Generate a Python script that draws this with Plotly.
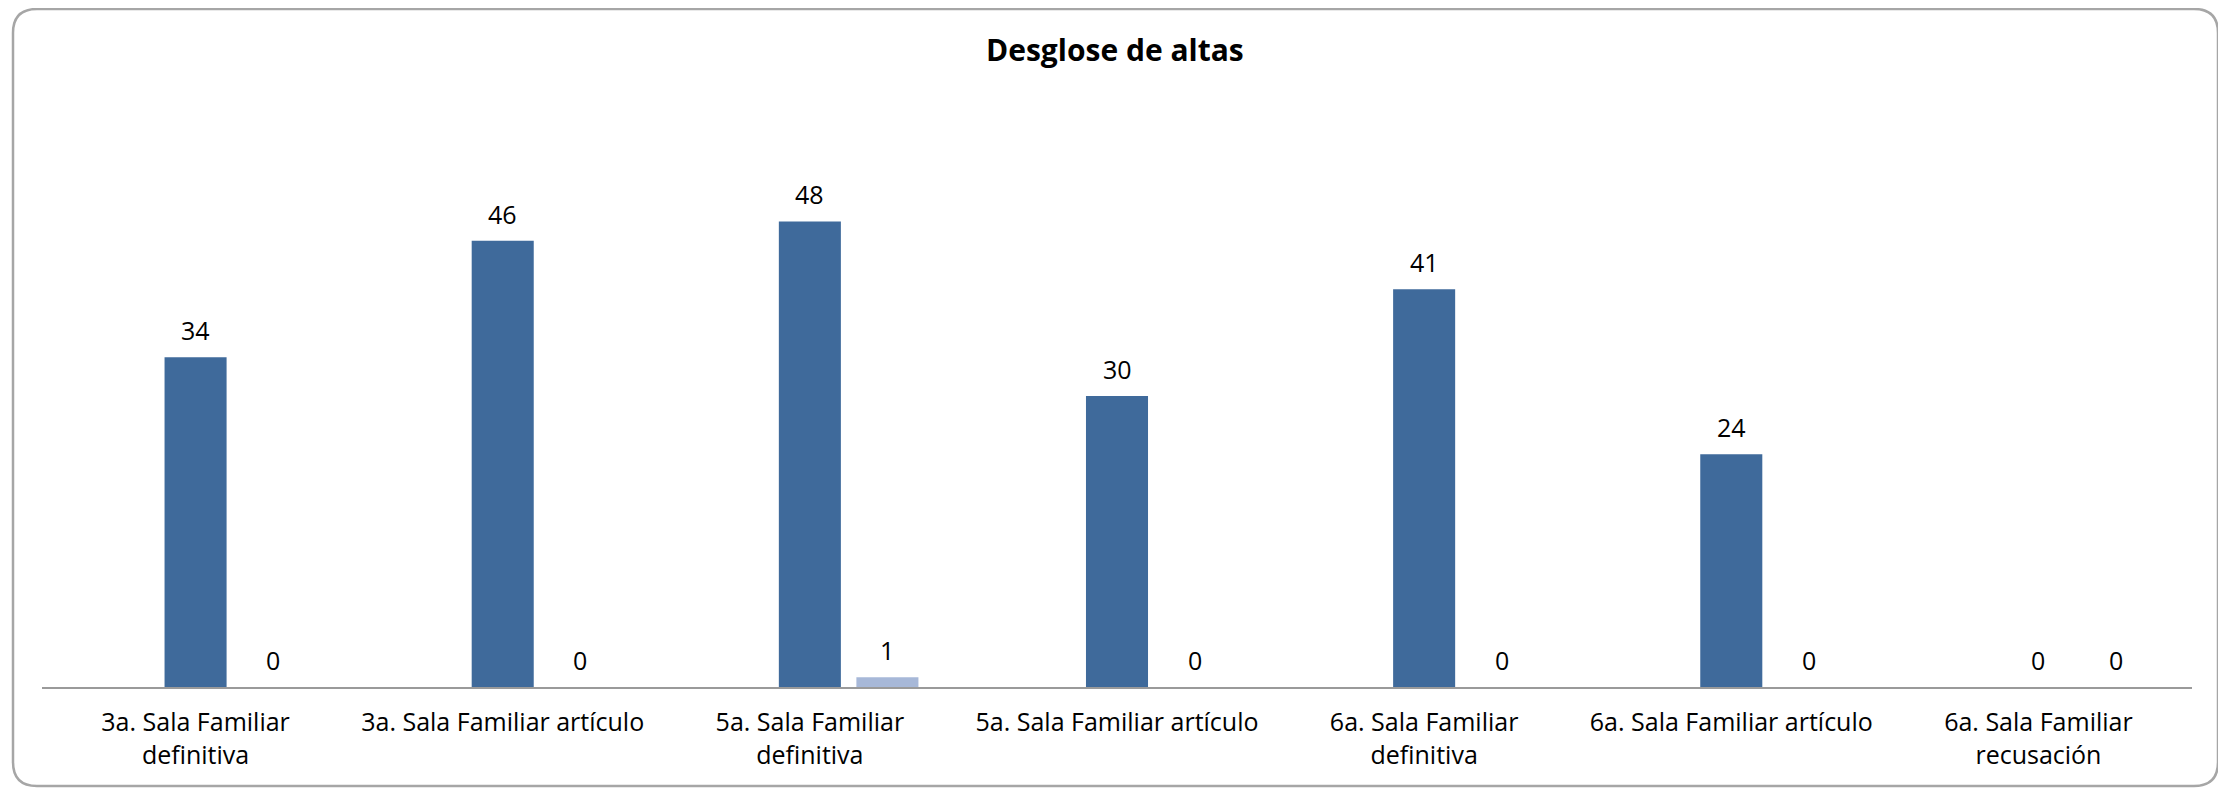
import plotly.graph_objects as go

categories = [
    "3a. Sala Familiar<br>definitiva",
    "3a. Sala Familiar artículo",
    "5a. Sala Familiar<br>definitiva",
    "5a. Sala Familiar artículo",
    "6a. Sala Familiar<br>definitiva",
    "6a. Sala Familiar artículo",
    "6a. Sala Familiar<br>recusación",
]
serie_a = [34, 46, 48, 30, 41, 24, 0]
serie_b = [0, 0, 1, 0, 0, 0, 0]
title_text = "Desglose de altas"

# page has an 8px body margin; figure coordinates = page - 8
OFF = 8
W, H = 2218, 782
L, R = 42 - OFF, W - (2192 - OFF)
T, B = 105 - OFF, H - (687 - OFF)
pw = W - L - R
ph = H - T - B

dark = "#3F6A9B"
light = "#A7B8D8"
font_family = "Open Sans, Lato, DejaVu Sans, sans-serif"
fs = 25

bw = 0.202
fig = go.Figure()
fig.add_trace(go.Bar(x=categories, y=serie_a, width=bw, offset=-bw / 2,
                     marker=dict(color=dark, line=dict(width=0)), showlegend=False))
fig.add_trace(go.Bar(x=categories, y=serie_b, width=bw, offset=0.1515,
                     marker=dict(color=light, line=dict(width=0)), showlegend=False))

annotations = []
for c, v in zip(categories, serie_a):
    annotations.append(dict(x=c, y=v, xref="x", yref="y", text=str(v), showarrow=False,
                            yshift=27, font=dict(size=fs, color="#000000", family=font_family)))
for c, v in zip(categories, serie_b):
    annotations.append(dict(x=c, y=v, xref="x", yref="y", text=str(v), showarrow=False,
                            xshift=77.5, yshift=27, font=dict(size=fs, color="#000000", family=font_family)))


def px2x(x):
    return (x - OFF - L) / pw


def px2y(y):
    return (H - B - (y - OFF)) / ph


# title
annotations.append(dict(x=px2x(1115), y=px2y(50), xref="paper", yref="paper",
                        text="<b>" + title_text + "</b>", showarrow=False,
                        font=dict(size=30, color="#000000", family=font_family),
                        xanchor="center", yanchor="middle"))

# rounded border (page pixel coords)
x0, x1, y0, y1, r = 13, 2218, 9, 786, 24
path = (
    f"M {px2x(x0 + r)},{px2y(y0)} L {px2x(x1 - r)},{px2y(y0)} "
    f"Q {px2x(x1)},{px2y(y0)} {px2x(x1)},{px2y(y0 + r)} "
    f"L {px2x(x1)},{px2y(y1 - r)} "
    f"Q {px2x(x1)},{px2y(y1)} {px2x(x1 - r)},{px2y(y1)} "
    f"L {px2x(x0 + r)},{px2y(y1)} "
    f"Q {px2x(x0)},{px2y(y1)} {px2x(x0)},{px2y(y1 - r)} "
    f"L {px2x(x0)},{px2y(y0 + r)} "
    f"Q {px2x(x0)},{px2y(y0)} {px2x(x0 + r)},{px2y(y0)} Z"
)

fig.update_layout(
    width=W, height=H,
    margin=dict(l=L, r=R, t=T, b=B, autoexpand=False),
    paper_bgcolor="white", plot_bgcolor="white",
    barmode="overlay",
    annotations=annotations,
    shapes=[dict(type="path", path=path, xref="paper", yref="paper",
                 line=dict(color="#A6A6A6", width=2.5), fillcolor="rgba(0,0,0,0)", layer="below")],
    font=dict(family=font_family, color="#000000"),
)
fig.update_xaxes(range=[-0.5, len(categories) - 0.5], showline=True, linecolor="#9A9A9A",
                 linewidth=2, showgrid=False, ticks="",
                 tickfont=dict(size=fs, color="#000000", family=font_family),
                 ticklabelstandoff=12, zeroline=False, fixedrange=True)
fig.update_yaxes(range=[0, 60], visible=False, showgrid=False, zeroline=False, fixedrange=True)

fig.write_html("out.html")
